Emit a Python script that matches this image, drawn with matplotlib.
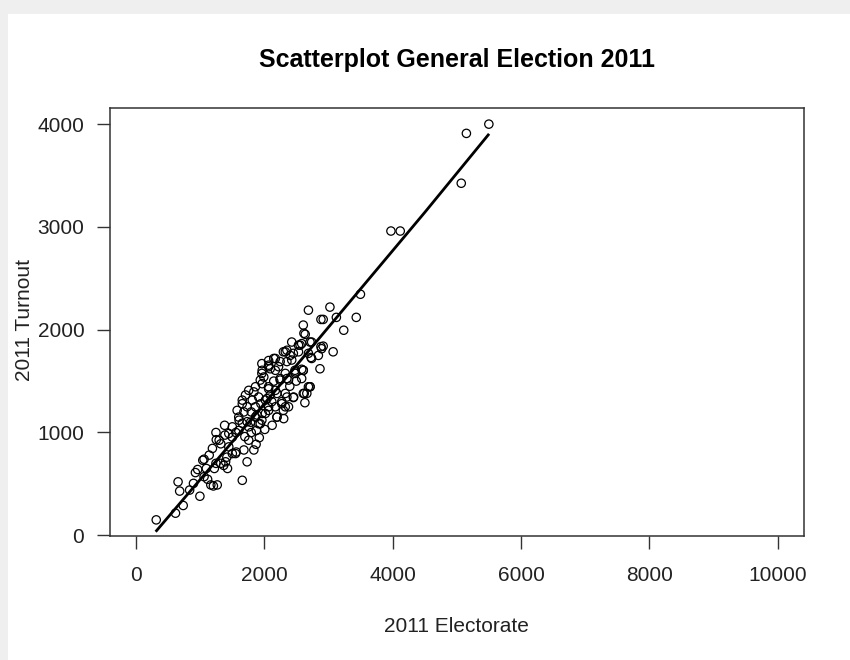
import matplotlib
matplotlib.use("Agg")
import matplotlib.pyplot as plt
from matplotlib.patches import Rectangle
import numpy as np

plt.rcParams['font.family'] = ['Liberation Sans', 'DejaVu Sans']

title = "Scatterplot General Election 2011"
x_label = "2011 Electorate"
y_label = "2011 Turnout"
x_ticks = [0, 2000, 4000, 6000, 8000, 10000]
y_ticks = [0, 1000, 2000, 3000, 4000]

electorate = [
    320, 620, 740, 660, 685, 840, 1000, 900, 930, 965, 1120, 1170, 1270, 1210,
    1045, 1145, 1195, 1300, 1390, 1250, 1325, 1400, 1430, 1370, 1420, 1225, 1250,
    1555, 1660, 1685, 1735, 1505, 1560, 1100, 1065, 1255, 1325, 1065, 1450, 1565,
    1840, 1875, 1760, 1925, 1505, 1385, 1450, 1505, 1605, 1660, 1605, 1685, 1735,
    1660, 1710, 1760, 1865, 1940, 1965, 1815, 1865, 1890, 1915, 1965, 2020, 2070,
    2020, 2095, 2070, 2175, 2200, 2300, 2330, 2275, 2355, 2455, 2250, 2330, 2175,
    2095, 2225, 2175, 2250, 2355, 2430, 2455, 2535, 2355, 2300, 2430, 2585, 2740,
    2620, 2610, 2690, 3025, 2885, 2920, 3125, 3435, 3500, 3240, 3075, 2870, 2715,
    2625, 2635, 2895, 2730, 2585, 2480, 2380, 1965, 2070, 2640, 2535, 2920, 2845,
    2690, 2405, 2150, 2070, 1995, 2250, 2485, 2610, 2585, 2690, 2665, 2460, 2330,
    2275, 2380, 2175, 2070, 1970, 1865, 1735, 1610, 1580, 1660, 1840, 1970, 2070,
    1915, 2045, 2200, 2305, 2125, 1940, 1760, 2560, 2715, 2885, 2740, 2330, 2070,
    1970, 2610, 2485, 2355, 2715, 2610, 1800, 1700, 1790, 1880, 2010, 1950, 2120,
    1800, 2150, 2400, 2500, 2200, 3975, 4120, 5070, 5150, 5500,
]
turnout = [
    150, 215, 290, 520, 430, 440, 380, 505, 610, 640, 545, 490, 490, 480,
    730, 780, 845, 925, 975, 1000, 700, 715, 650, 680, 760, 650, 700,
    795, 535, 830, 715, 955, 1000, 650, 740, 930, 890, 570, 860, 810,
    830, 885, 925, 950, 795, 1070, 990, 1055, 1020, 1090, 1150, 1200, 1250,
    1315, 1365, 1410, 1445, 1510, 1575, 1315, 1250, 1170, 1085, 1120, 1185, 1250,
    1315, 1365, 1445, 1410, 1150, 1215, 1250, 1280, 1345, 1340, 1510, 1575, 1605,
    1620, 1640, 1720, 1690, 1690, 1705, 1770, 1785, 1800, 1785, 1880, 1865, 1880,
    1965, 2045, 2190, 2220, 2100, 2100, 2120, 2120, 2345, 1995, 1785, 1620, 1445,
    1380, 1290, 1815, 1730, 1615, 1605, 1510, 1670, 1700, 1955, 1850, 1840, 1750,
    1770, 1750, 1720, 1640, 1540, 1525, 1575, 1605, 1525, 1445, 1380, 1345, 1380,
    1300, 1250, 1250, 1215, 1185, 1150, 1105, 1120, 1215, 1280, 1395, 1475, 1425,
    1345, 1330, 1150, 1135, 1070, 1085, 1055, 1850, 1880, 1835, 1720, 1785, 1655,
    1605, 1605, 1590, 1525, 1445, 1380, 1000, 960, 1100, 1020, 1030, 1280, 1300,
    1200, 1500, 1450, 1500, 1380, 2960, 2960, 3425, 3910, 4000,
]

# smoothed fit line
fit_x = [325, 1500, 2500, 3500, 4500, 5490]
fit_y = [45, 905, 1650, 2395, 3140, 3895]

fig = plt.figure(figsize=(8.5, 6.6), dpi=100)
fig.patch.set_facecolor('#efefef')
bg = Rectangle((8 / 850, 0), 1, 1 - 14 / 660, transform=fig.transFigure,
               facecolor='white', edgecolor='none', zorder=-10)
fig.add_artist(bg)

ax = fig.add_axes([110 / 850, (660 - 535.7) / 660, 693.5 / 850, 427.4 / 660])
ax.set_zorder(5)
ax.set_facecolor('white')

ax.scatter(electorate, turnout, s=36, facecolors='none', edgecolors='black',
           linewidths=0.9, zorder=3)
ax.plot(fit_x, fit_y, color='black', lw=2.0, zorder=4)

ymin, ymax = min(turnout), max(turnout)
yr = ymax - ymin
ax.set_xlim(-400, 10400)
ax.set_ylim(ymin - 0.04 * yr, ymax + 0.04 * yr)

ax.set_xticks(x_ticks)
ax.set_yticks(y_ticks)
ax.set_xticklabels([str(v) for v in x_ticks])
ax.set_yticklabels([str(v) for v in y_ticks])
ax.tick_params(axis='both', direction='out', length=9.5, width=1.0,
               labelsize=15, color='#333333', labelcolor='#222222')
ax.tick_params(axis='x', pad=12.5)
ax.tick_params(axis='y', pad=9)
for sp in ax.spines.values():
    sp.set_linewidth(1.1)
    sp.set_color('#333333')

fig.text((110 + 803.5) / 2 / 850, 1 - 60 / 660, title, ha='center', va='center',
         fontsize=18, fontweight='bold', color='black', zorder=6)
fig.text((110 + 803.5) / 2 / 850, 1 - 627 / 660, x_label, ha='center', va='center',
         fontsize=15, color='#222222', zorder=6)
fig.text(25 / 850, 1 - 320 / 660, y_label, ha='center', va='center',
         rotation=90, fontsize=15, color='#222222', zorder=6)

fig.savefig('out.png', dpi=100)
